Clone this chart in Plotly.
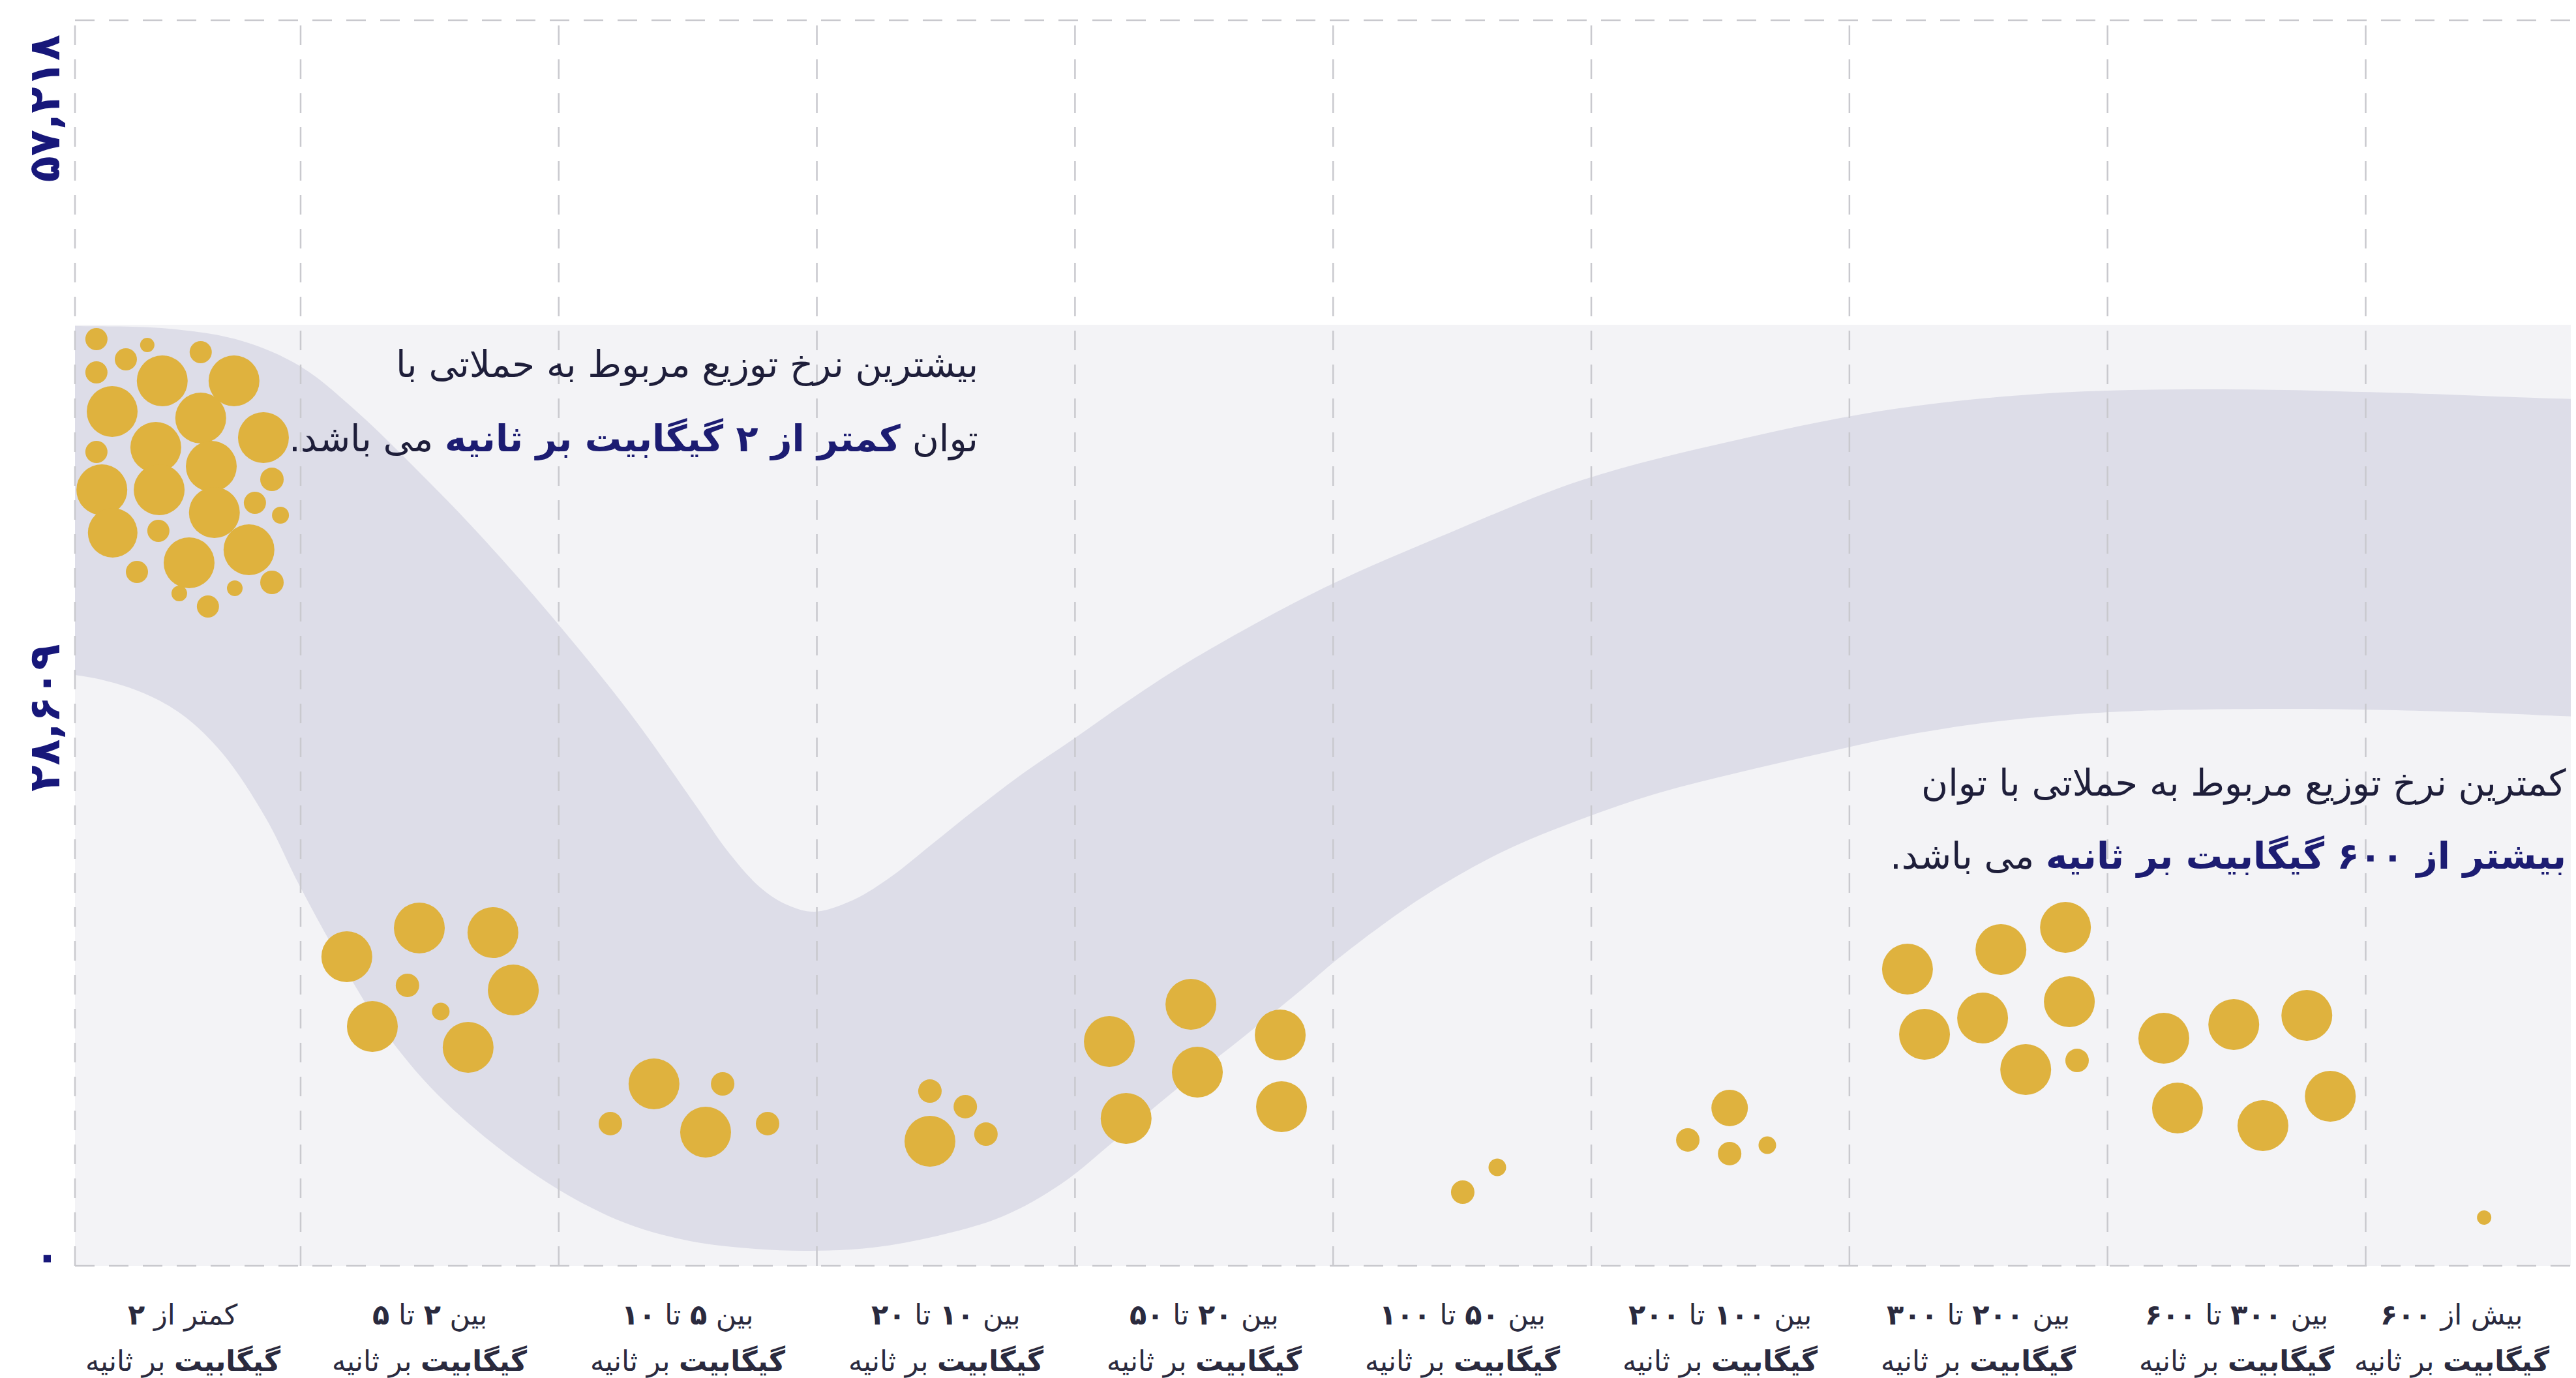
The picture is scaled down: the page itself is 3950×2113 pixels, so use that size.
import plotly.graph_objects as go

# ---------------- data ----------------
cat_line1 = [
    "کمتر از <b>۲</b>",
    "بین <b>۲</b> تا <b>۵</b>",
    "بین <b>۵</b> تا <b>۱۰</b>",
    "بین <b>۱۰</b> تا <b>۲۰</b>",
    "بین <b>۲۰</b> تا <b>۵۰</b>",
    "بین <b>۵۰</b> تا <b>۱۰۰</b>",
    "بین <b>۱۰۰</b> تا <b>۲۰۰</b>",
    "بین <b>۲۰۰</b> تا <b>۳۰۰</b>",
    "بین <b>۳۰۰</b> تا <b>۶۰۰</b>",
    "بیش از <b>۶۰۰</b>",
]
cat_line2 = "<b>گیگابیت</b> بر ثانیه"

y_max = 57218
y_tick_vals = [57218, 28609, 0]
y_tick_text = ["۵۷,۲۱۸", "۲۸,۶۰۹", "۰"]

bubble_cat = (
    [0] * 28 + [1] * 8 + [2] * 5 + [3] * 4 + [4] * 6 + [5] * 2 + [6] * 4 + [7] * 8 + [8] * 6 + [9] * 1
)
bubble_offset = [
    -0.291, -0.094, 0.113, -0.177, -0.291, -0.036, 0.242, -0.230, 0.113, 0.356,
    -0.061, -0.291, 0.154, 0.389, -0.270, -0.048, 0.166, 0.323, 0.422, -0.228,
    -0.051, 0.300, 0.068, -0.134, 0.389, 0.245, 0.030, 0.141,
    -0.321, -0.040, 0.245, -0.086, 0.324, 0.043, -0.222, 0.149,
    -0.300, -0.131, 0.069, 0.135, 0.309,
    -0.062, 0.075, -0.062, 0.155,
    -0.367, -0.051, -0.026, -0.302, 0.295, 0.300,
    0.002, 0.136,
    0.036, -0.126, 0.036, 0.182,
    -0.275, 0.087, 0.337, -0.209, 0.016, 0.352, 0.183, 0.382,
    -0.282, -0.011, 0.272, -0.229, 0.102, 0.363,
    -0.041,
]
bubble_value = [
    42569, 42299, 41970, 41640, 41041, 40652, 40652, 39244, 38944, 38045,
    37596, 37386, 36727, 36128, 35649, 35649, 34600, 35050, 34480, 33672,
    33762, 32893, 32294, 31874, 31395, 31125, 30886, 30287,
    14200, 15518, 15308, 12882, 12672, 11683, 10994, 10036,
    6531, 8358, 6141, 8358, 6531,
    8028, 7310, 5722, 6051,
    10305, 12013, 8897, 6770, 10605, 7310,
    3385, 4524,
    7250, 5782, 5153, 5542,
    13630, 14529, 15548, 10635, 11384, 12133, 9017, 9436,
    10455, 11084, 11503, 7250, 6441, 7789,
    2217,
]
bubble_size = [
    34, 22, 34, 34, 34, 78, 78, 78, 78, 78,
    78, 34, 78, 36, 78, 78, 78, 34, 26, 76,
    34, 78, 78, 34, 36, 24, 24, 34,
    78, 78, 78, 36, 78, 27, 78, 78,
    36, 78, 78, 36, 36,
    36, 36, 78, 36,
    78, 78, 78, 78, 78, 78,
    36, 27,
    56, 36, 36, 27,
    78, 78, 78, 78, 78, 78, 78, 36,
    78, 78, 78, 78, 78, 78,
    22,
]

# distribution band: upper edge and lower edge
band_top_x = [-0.6, -0.374, -0.012, 0.266, 0.500, 0.720, 0.947, 1.175, 1.455, 1.773,
              2.029, 2.160, 2.287, 2.388, 2.491, 2.641, 2.792, 2.944, 3.121, 3.298,
              3.491, 3.701, 3.939, 4.446, 4.957, 5.465, 6.038, 6.675, 7.312, 7.948,
              8.585, 9.335, 9.6]
band_top_y = [43168, 43168, 43048, 42509, 41311, 39214, 36608, 33822, 30077, 25433,
              21180, 18963, 17315, 16566, 16267, 16806, 17914, 19352, 21030, 22617,
              24175, 25913, 27740, 31035, 33702, 36098, 37866, 39363, 40112, 40262,
              40112, 39813, 39813]
band_bot_x = [-0.6, -0.374, -0.139, 0.038, 0.197, 0.366, 0.492, 0.644, 0.796, 0.998,
              1.250, 1.503, 1.756, 2.008, 2.261, 2.473, 2.716, 2.968, 3.221, 3.448,
              3.651, 3.878, 4.105, 4.361, 4.535, 4.841, 5.146, 5.455, 5.760, 6.066,
              6.372, 6.683, 6.993, 7.314, 7.630, 8.267, 8.903, 9.335, 9.6]
band_bot_y = [27141, 27141, 26452, 25344, 23546, 20551, 17555, 14260, 11264, 8268,
              5572, 3475, 1977, 1138, 779, 689, 839, 1378, 2277, 3775,
              5722, 7969, 10066, 12522, 14260, 16896, 18963, 20491, 21719, 22648,
              23486, 24295, 24894, 25284, 25494, 25583, 25434, 25224, 25224]
background_top = 43228

note1_lines = [
    "بیشترین نرخ توزیع مربوط به حملاتی با",
    "توان <b><span style='color:#1c1c72'>کمتر از ۲ گیگابیت بر ثانیه</span></b> می باشد.\u200f",
]
note2_lines = [
    "کمترین نرخ توزیع مربوط به حملاتی با توان",
    "<b><span style='color:#1c1c72'>بیشتر از ۶۰۰ گیگابیت بر ثانیه</span></b> می باشد.\u200f",
]

# ---------------- styles ----------------
FONT = "DejaVu Sans, sans-serif"
GOLD = "#DFB23E"
BAND = "#DDDDE8"
LIGHT = "#F3F3F6"
GRID = "#C9C9CE"
NAVY = "#17177A"
TEXT = "#1E1E3A"
X_MIN, X_MAX = -0.374, 9.335

fig = go.Figure()

fig.add_trace(go.Scatter(
    x=band_top_x + band_bot_x[::-1],
    y=band_top_y + band_bot_y[::-1],
    mode="lines", fill="toself", fillcolor=BAND,
    line=dict(width=0, color=BAND, shape="spline", smoothing=1.0),
    hoverinfo="skip", showlegend=False,
))

fig.add_trace(go.Scatter(
    x=[c + o for c, o in zip(bubble_cat, bubble_offset)],
    y=bubble_value,
    mode="markers",
    marker=dict(size=bubble_size, color=GOLD, opacity=1, line=dict(width=0)),
    hoverinfo="skip", showlegend=False,
))

shapes = [
    dict(type="rect", xref="paper", yref="y", x0=0, x1=1, y0=0, y1=background_top,
         fillcolor=LIGHT, line=dict(width=0), layer="below"),
]
grid_line = dict(color=GRID, width=2.5, dash="30px,22px")
for i in range(len(cat_line1) - 1):
    shapes.append(dict(type="line", xref="x", yref="paper", x0=i + 0.5, x1=i + 0.5, y0=0, y1=1,
                       line=grid_line, layer="above"))
shapes.append(dict(type="line", xref="paper", yref="paper", x0=0, x1=0, y0=0, y1=1,
                   line=grid_line, layer="above"))
shapes.append(dict(type="line", xref="paper", yref="paper", x0=0, x1=1, y0=1, y1=1,
                   line=grid_line, layer="above"))
shapes.append(dict(type="line", xref="paper", yref="paper", x0=0, x1=1, y0=0, y1=0,
                   line=grid_line, layer="above"))

annotations = []
for i, t in enumerate(cat_line1):
    shift = 17 if i == 0 else (-66 if i == len(cat_line1) - 1 else 0)
    for line, yshift in ((t, -75), (cat_line2, -146)):
        annotations.append(dict(
            x=i, y=0, xref="x", yref="y", text=line, showarrow=False,
            xanchor="center", yanchor="middle", xshift=shift, yshift=yshift,
            font=dict(family=FONT, size=43, color="#2A2A3E"),
        ))

y_label_shift = [-20, -115, 11]
y_label_anchor = ["top", "middle", "middle"]
for v, t, s, a in zip(y_tick_vals, y_tick_text, y_label_shift, y_label_anchor):
    annotations.append(dict(
        x=0, y=v, xref="paper", yref="y", text="<b>" + t + "</b>", showarrow=False,
        textangle=-90, xanchor="center", yanchor=a, xshift=-47, yshift=s,
        font=dict(family=FONT, size=66, color=NAVY),
    ))

for lines, xr, ys in ((note1_lines, 3.130, [41401, 37985]), (note2_lines, 9.282, [22169, 18814])):
    for line, yv in zip(lines, ys):
        annotations.append(dict(
            x=xr, y=yv, xref="x", yref="y", text=line, showarrow=False,
            xanchor="right", yanchor="middle", align="right",
            font=dict(family=FONT, size=56, color=TEXT),
        ))

fig.update_layout(
    width=3950, height=2113,
    margin=dict(l=107, r=0, t=23, b=180),
    paper_bgcolor="white", plot_bgcolor="white",
    xaxis=dict(range=[X_MIN, X_MAX], showgrid=False, zeroline=False, showticklabels=False,
               showline=False, ticks=""),
    yaxis=dict(range=[0, y_max], showgrid=False, zeroline=False, showticklabels=False,
               showline=False, ticks=""),
    shapes=shapes, annotations=annotations, showlegend=False,
)

fig.write_html("out.html")
